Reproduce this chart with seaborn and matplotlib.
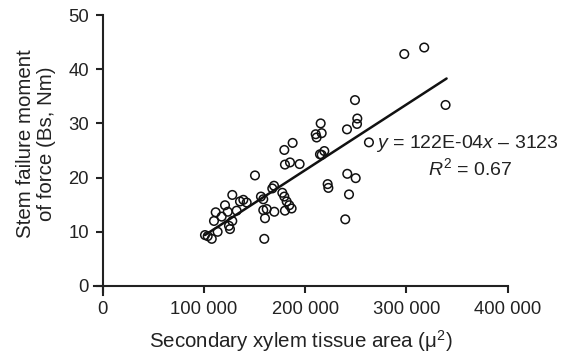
import matplotlib
matplotlib.use("Agg")
import matplotlib.pyplot as plt
import seaborn as sns
import pandas as pd
import numpy as np

# Data
xylem_area = [317600, 297900, 338700, 249200, 251500, 251200, 241300, 263000,
              215300, 210400, 216300, 211300, 187600, 179400, 180000, 185000,
              194500, 214600, 218900, 216300, 150400, 241600, 249900, 222200,
              222900, 243300, 239600, 169200, 167500, 177400, 179400, 181700,
              184300, 186600, 180000, 156300, 158600, 158600, 162000, 169500,
              160300, 159600, 128000, 138900, 135600, 142200, 120800, 132300,
              123500, 111600, 117500, 109900, 128000, 124700, 125700, 113500,
              103700, 107700, 101000]
failure_moment = [44.0, 42.8, 33.4, 34.3, 30.9, 29.9, 28.9, 26.5,
                  30.0, 28.0, 28.2, 27.4, 26.4, 25.1, 22.4, 22.8,
                  22.5, 24.3, 24.9, 24.2, 20.4, 20.7, 19.9, 18.8,
                  18.1, 16.9, 12.3, 18.5, 18.0, 17.2, 16.5, 15.6,
                  14.9, 14.3, 13.9, 16.5, 16.0, 14.0, 14.2, 13.7,
                  12.5, 8.7, 16.8, 15.9, 15.6, 15.4, 14.9, 13.9,
                  13.7, 13.6, 12.8, 12.0, 12.0, 11.1, 10.5, 10.0,
                  9.2, 8.7, 9.4]
fit_x = [101000, 339700]
fit_slope = 1.21e-4
fit_intercept = -2.82
x_ticks = [0, 100000, 200000, 300000, 400000]
x_tick_labels = ["0", "100 000", "200 000", "300 000", "400 000"]
y_ticks = [0, 10, 20, 30, 40, 50]

sns.set_style("ticks")
plt.rcParams['font.family'] = ['Liberation Sans', 'DejaVu Sans']
plt.rcParams['mathtext.fontset'] = 'custom'
plt.rcParams['mathtext.rm'] = 'Liberation Sans'
plt.rcParams['mathtext.it'] = 'Liberation Sans:italic'

fig = plt.figure(figsize=(5.71, 3.53), dpi=100)
ax = fig.add_axes([0.1645, 0.1637, 0.889 - 0.1645, 0.9575 - 0.1637])

df = pd.DataFrame({"x": xylem_area, "y": failure_moment})
sns.scatterplot(data=df, x="x", y="y", ax=ax, marker="o", s=38,
                facecolors="none", edgecolor="#111111", linewidth=1.1)

fit_df = pd.DataFrame({"x": fit_x,
                       "y": [fit_slope * v + fit_intercept for v in fit_x]})
sns.lineplot(data=fit_df, x="x", y="y", ax=ax, color="#111111", linewidth=1.8)

ax.set_xlim(-8700, 400000)
ax.set_ylim(-1.7, 50)
ax.spines['left'].set_position(('data', 0))
ax.spines['bottom'].set_position(('data', 0))
ax.spines['right'].set_visible(False)
ax.spines['top'].set_visible(False)
for s in ['left', 'bottom']:
    ax.spines[s].set_linewidth(1.5)
    ax.spines[s].set_color("#222222")

ax.set_xticks(x_ticks)
ax.set_xticklabels(x_tick_labels)
ax.set_yticks(y_ticks)
ax.tick_params(axis='both', direction='out', length=5, width=1.5,
               color="#222222", labelsize=13.3, labelcolor="#222222")
ax.tick_params(axis='x', pad=6)
ax.tick_params(axis='y', pad=5)

ax.set_xlabel(r"Secondary xylem tissue area ($\mathrm{\mu}^2$)", fontsize=14.8,
              color="#222222")
ax.xaxis.set_label_coords(0.5, -0.118)
ax.set_ylabel("Stem failure moment\nof force (Bs, Nm)", fontsize=14.8,
              color="#222222", linespacing=1.15)
ax.yaxis.set_label_coords(-0.092, 0.54)

ax.text(0.903, 0.543, r"$y$ = 122E-04$x$ – 3123", transform=ax.transAxes,
        ha="center", va="center", fontsize=14, color="#222222")
ax.text(0.911, 0.454, r"$R^2$ = 0.67", transform=ax.transAxes,
        ha="center", va="center", fontsize=14, color="#222222")

fig.savefig("out.png", dpi=100)
